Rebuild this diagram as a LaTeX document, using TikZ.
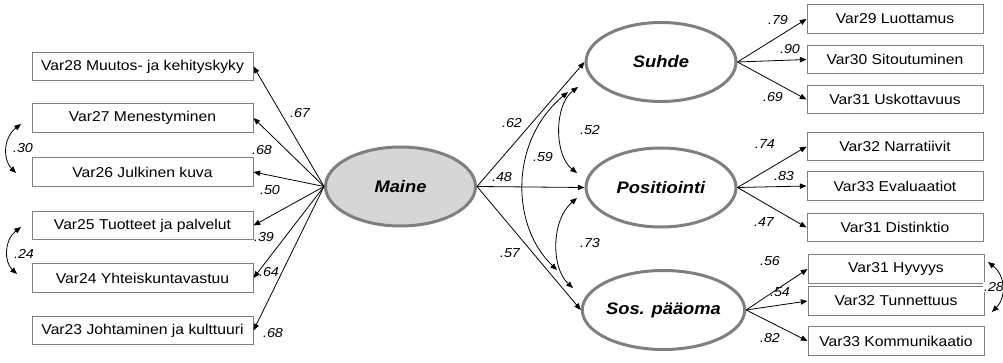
\documentclass[tikz,border=0pt]{standalone}
\usepackage{fontspec}
\setmainfont{Liberation Sans}[FakeStretch=1.1]
\usetikzlibrary{shapes.geometric,arrows.meta}
\definecolor{boxgray}{HTML}{808080}
\definecolor{ellgray}{HTML}{7F7F7F}
\definecolor{mainefill}{HTML}{D6D6D6}
\tikzset{
  obs/.style={draw=boxgray, line width=0.75pt, minimum height=21.4pt, inner sep=0pt,
    font=\fontsize{10.7}{12}\selectfont},
  obsl/.style={obs, minimum width=165.75pt},
  obsr/.style={obs, minimum width=132pt},
  lat/.style={ellipse, draw=ellgray, line width=2.25pt, minimum width=112.5pt,
    minimum height=59.25pt, inner sep=0pt, font=\fontsize{12.5}{14}\selectfont\bfseries\itshape},
  arr/.style={-{Triangle[length=5pt,width=4pt]}, line width=0.6pt},
  cov/.style={{Triangle[length=5pt,width=4pt]}-{Triangle[length=5pt,width=4pt]}, line width=0.6pt},
  coef/.style={font=\fontsize{9.75}{11}\selectfont\itshape, inner sep=0.5pt}
}
\begin{document}
\begin{tikzpicture}[x=0.75pt,y=-0.75pt]
\useasboundingbox (0,0) rectangle (1003,363);
% latent variables
\node[lat, fill=mainefill] (maine) at (400.5,186.5) {Maine};
\node[lat] (suhde) at (661,62) {Suhde};
\node[lat] (pos) at (661,187.5) {Positiointi};
\node[lat] (sos) at (663.5,310) {Sos. pääoma};
% left indicators
\node[obsl] (v28) at (142.5,66.5) {Var28 Muutos- ja kehityskyky};
\node[obsl] (v27) at (142.5,118) {Var27 Menestyminen};
\node[obsl] (v26) at (142.5,172) {Var26 Julkinen kuva};
\node[obsl] (v25) at (142.5,225.5) {Var25 Tuotteet ja palvelut};
\node[obsl] (v24) at (142.5,278) {Var24 Yhteiskuntavastuu};
\node[obsl] (v23) at (142.5,330.5) {Var23 Johtaminen ja kulttuuri};
% right indicators
\node[obsr] (v29) at (895,19) {Var29 Luottamus};
\node[obsr] (v30) at (895,59.5) {Var30 Sitoutuminen};
\node[obsr] (v31u) at (895,99.5) {Var31 Uskottavuus};
\node[obsr] (v32n) at (895,146.5) {Var32 Narratiivit};
\node[obsr] (v33e) at (895,186) {Var33 Evaluaatiot};
\node[obsr] (v31d) at (895,227.5) {Var31 Distinktio};
\node[obsr] (v31h) at (896,269) {Var31 Hyvyys};
\node[obsr] (v32t) at (896,301) {Var32 Tunnettuus};
\node[obsr] (v33k) at (896,341) {Var33 Kommunikaatio};
% Maine loadings
\foreach \b in {v28,v27,v26,v25,v24,v23} \draw[arr] (maine.west) -- (\b.east);
% structural paths
\draw[arr] (maine.east) -- (suhde.west);
\draw[arr] (maine.east) -- (pos.west);
\draw[arr] (maine.east) -- (sos.west);
% right loadings
\foreach \b in {v29,v30,v31u} \draw[arr] (suhde.east) -- (\b.west);
\foreach \b in {v32n,v33e,v31d} \draw[arr] (pos.east) -- (\b.west);
\foreach \b in {v31h,v32t,v33k} \draw[arr] (sos.east) -- (\b.west);
% covariances
\coordinate (c30a) at (21,124); \coordinate (c30b) at (16,173);
\draw[cov] (c30a) .. controls (3,138) and (3,160) .. (c30b);
\coordinate (c24a) at (21,227); \coordinate (c24b) at (17,274);
\draw[cov] (c24a) .. controls (4,240) and (4,262) .. (c24b);
\coordinate (c28a) at (988,262); \coordinate (c28b) at (992,312);
\draw[cov] (c28a) .. controls (1006,276) and (1006,298) .. (c28b);
\coordinate (c59a) at (557,270); \coordinate (c59b) at (568,92);
\draw[cov] (c59a) .. controls (510,225) and (510,140) .. (c59b);
\coordinate (c52a) at (578,87); \coordinate (c52b) at (577,173);
\draw[cov] (c52a) .. controls (554,105) and (554,155) .. (c52b);
\coordinate (c73a) at (577,198); \coordinate (c73b) at (573,288);
\draw[cov] (c73a) .. controls (551,220) and (551,268) .. (c73b);
% coefficients
\node[coef] (l67) at (300,113) {.67};
\node[coef] (l68a) at (262,150) {.68};
\node[coef] (l50) at (270,190) {.50};
\node[coef] (l39) at (264,237) {.39};
\node[coef] (l64) at (269,272) {.64};
\node[coef] (l68b) at (273,333) {.68};
\node[coef] (l30) at (23,148) {.30};
\node[coef] (l24) at (24,254) {.24};
\node[coef] (l62) at (512,123) {.62};
\node[coef] (l48) at (502,177) {.48};
\node[coef] (l59) at (543,157) {.59};
\node[coef] (l57) at (510,253) {.57};
\node[coef] (l52) at (590,130) {.52};
\node[coef] (l73) at (590,243) {.73};
\node[coef] (l79) at (778,20) {.79};
\node[coef] (l90) at (790,49) {.90};
\node[coef] (l69) at (773,97) {.69};
\node[coef] (l74) at (765,144) {.74};
\node[coef] (l83) at (784,176) {.83};
\node[coef] (l47) at (764,222) {.47};
\node[coef] (l56) at (770,261) {.56};
\node[coef] (l54) at (780,292) {.54};
\node[coef] (l82) at (770,338) {.82};
\node[coef, fill=white] (l28) at (994,287) {.28};
\end{tikzpicture}
\end{document}
